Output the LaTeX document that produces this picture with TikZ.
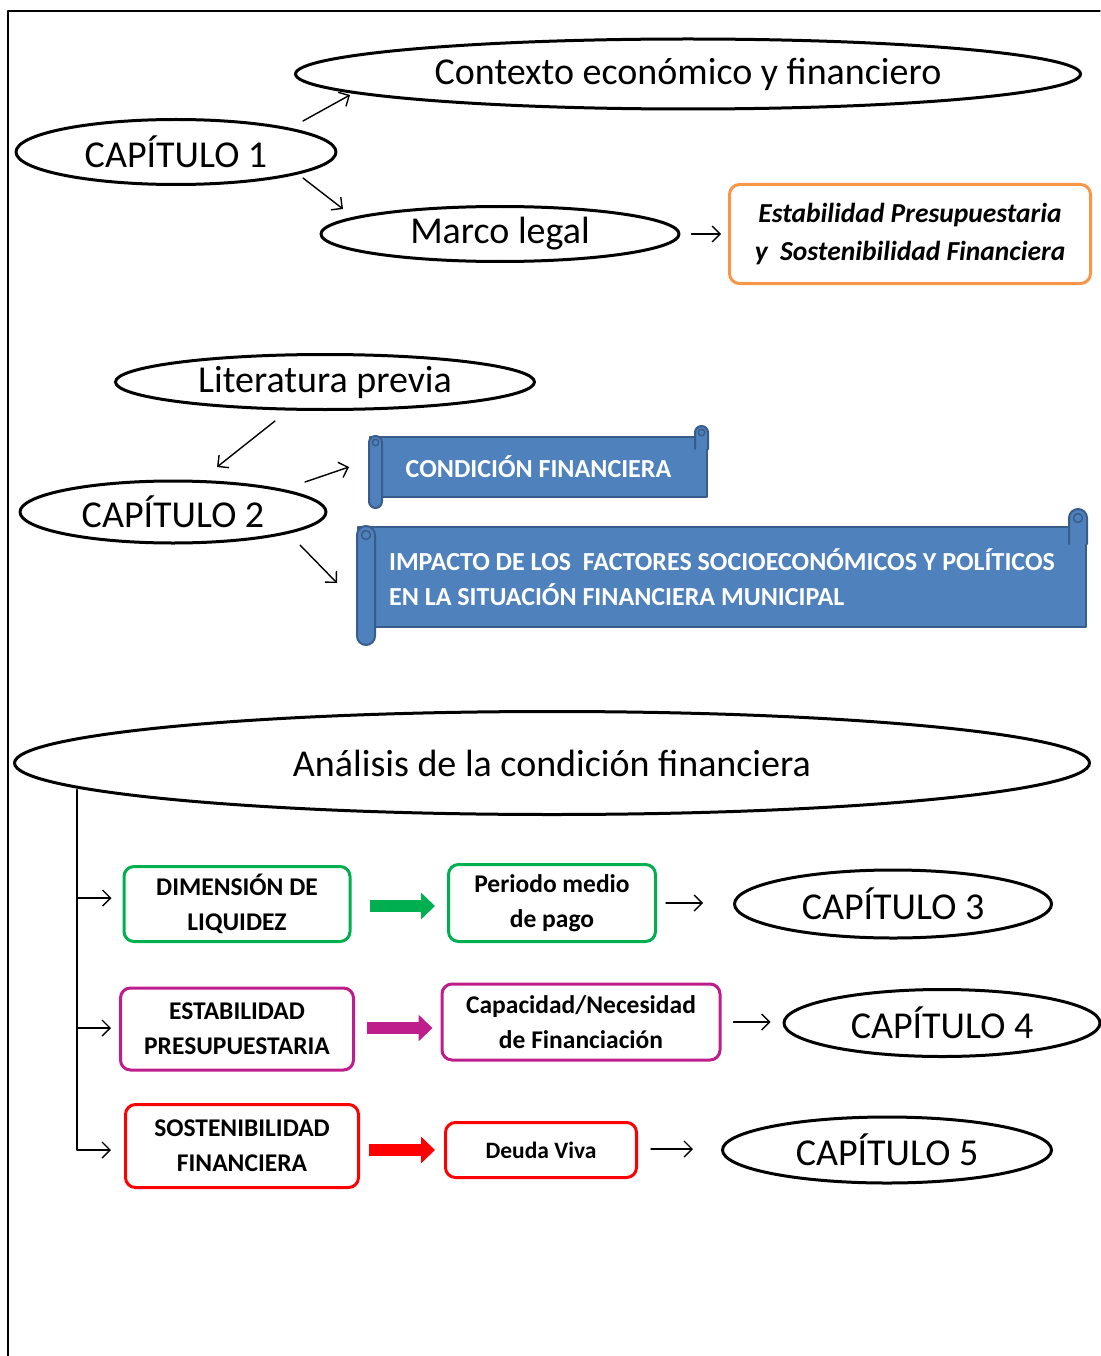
\documentclass[tikz,border=0pt]{standalone}
\usepackage{fontspec}
\setmainfont{Carlito}
\usetikzlibrary{shapes.geometric,arrows.meta,calc}

\definecolor{liqgreen}{RGB}{0,176,80}
\definecolor{presmag}{RGB}{190,30,140}
\definecolor{sostred}{RGB}{255,0,0}
\definecolor{estorange}{RGB}{247,150,70}
\definecolor{scrollblue}{RGB}{79,129,189}
\definecolor{scrolledge}{RGB}{56,93,138}

% rolled ends of a scroll banner drawn over node #1
\newcommand{\scrollrolls}[3]{%
  \pgfmathsetmacro{\rollr}{#2/2}
  \draw[scrollpart,rounded corners=\rollr pt]
    (#1.north west) rectangle ([xshift=#2,yshift=-#3]#1.south west);
  \draw[scrolledge,line width=1.5pt]
    ([xshift=#2/2,yshift=-#2/2]#1.north west) circle[radius=#2*0.25pt];
  \draw[scrollpart,rounded corners=\rollr pt]
    ([xshift=-#2,yshift=-#2]#1.north east) -- ([xshift=-#2,yshift=#3]#1.north east)
    -- ([yshift=#3]#1.north east) -- ([yshift=-#2]#1.north east);
  \draw[scrolledge,line width=1.5pt]
    ([xshift=-#2/2,yshift=#3-#2/2]#1.north east) circle[radius=#2*0.25pt];
}

\tikzset{
  oval/.style={ellipse,draw,line width=3pt,inner sep=0pt,
    font=\fontsize{38}{42}\selectfont},
  tagbox/.style={draw,line width=3pt,rounded corners=10pt,align=center,
    inner sep=0pt,font=\bfseries\fontsize{25.5}{35}\selectfont},
  scroll/.style={draw=scrolledge,fill=scrollblue,line width=2pt,text=white,
    inner sep=0pt,align=left,font=\bfseries\fontsize{26}{35}\selectfont},
  scrollpart/.style={draw=scrolledge,fill=scrollblue,line width=2pt},
  thinarr/.style={line width=1.4pt,-{Straight Barb[length=8pt,width=16pt]}},
  bigarr/.style={line width=12pt,line cap=butt,-{Triangle[length=14pt,width=26pt]}},
}

\begin{document}
\begin{tikzpicture}[x=1pt,y=-1pt,line cap=round,line join=round]
  \path[use as bounding box] (0,0) rectangle (1100,1356);
  \draw[line width=1.3pt] (8,1356) -- (8,11) -- (1100,11);

  % chapter 1
  \node[oval,minimum width=785,minimum height=70] (ctx) at (688,74) {Contexto económico y financiero};
  \node[oval,minimum width=320,minimum height=65] (cap1) at (176,152) {CAPÍTULO 1};
  \node[oval,minimum width=358,minimum height=55] (marco) at (500,234) {Marco legal};
  \node[tagbox,draw=estorange,minimum width=361,minimum height=99,
    font=\bfseries\itshape\fontsize{27.5}{38}\selectfont] (estab) at (910,234)
    {Estabilidad Presupuestaria\\y\ \ Sostenibilidad Financiera};

  \coordinate (c1up) at (303,121);
  \coordinate (ctxin) at (350,95);
  \coordinate (c1down) at (303,178);
  \coordinate (marcoin) at (343,209);
  \draw[thinarr] (c1up) -- (ctxin);
  \draw[thinarr] (c1down) -- (marcoin);
  \draw[thinarr,shorten <=11pt,shorten >=7pt] (marco.east) -- (marco.east -| estab.west);

  % chapter 2
  \node[oval,minimum width=419,minimum height=55] (lit) at (325,382) {Literatura previa};
  \node[oval,minimum width=306,minimum height=62] (cap2) at (173,512) {CAPÍTULO 2};
  \node[scroll,minimum width=337,minimum height=60] (cond) at (538.5,467) {CONDICIÓN FINANCIERA};
  \scrollrolls{cond}{13}{10}
  \node[scroll,minimum width=728,minimum height=100] (impac) at (722,577)
    {IMPACTO DE LOS\ \ FACTORES SOCIOECONÓMICOS Y POLÍTICOS\\EN LA SITUACIÓN FINANCIERA MUNICIPAL};
  \scrollrolls{impac}{18}{17}

  \coordinate (litout) at (275,421);
  \coordinate (c2in) at (217,467);
  \coordinate (c2up) at (305,482);
  \coordinate (condin) at (349,467);
  \coordinate (c2down) at (300,545);
  \coordinate (impacin) at (337,583);
  \draw[thinarr] (litout) -- (c2in);
  \draw[thinarr] (c2up) -- (condin);
  \draw[thinarr] (c2down) -- (impacin);

  % chapters 3 to 5
  \node[oval,minimum width=1075,minimum height=103] (anal) at (552,763) {Análisis de la condición financiera};

  \node[tagbox,draw=liqgreen,minimum width=226,minimum height=75] (liq) at (237,904) {DIMENSIÓN DE\\LIQUIDEZ};
  \node[tagbox,draw=liqgreen,minimum width=207,minimum height=77] (pago) at (552,903) {Periodo medio\\de pago};
  \node[oval,minimum width=317,minimum height=68] (cap3) at (893,904) {CAPÍTULO 3};

  \node[tagbox,draw=presmag,minimum width=233,minimum height=82] (pres) at (237,1029) {ESTABILIDAD\\PRESUPUESTARIA};
  \node[tagbox,draw=presmag,minimum width=278,minimum height=76] (finan) at (581,1022) {Capacidad/Necesidad\\de Financiación};
  \node[oval,minimum width=316,minimum height=67] (cap4) at (942,1023) {CAPÍTULO 4};

  \node[tagbox,draw=sostred,minimum width=233,minimum height=83] (sost) at (242,1146) {SOSTENIBILIDAD\\FINANCIERA};
  \node[tagbox,draw=sostred,minimum width=191,minimum height=55,
    font=\bfseries\fontsize{23.5}{30}\selectfont] (deuda) at (541,1150) {Deuda Viva};
  \node[oval,minimum width=329,minimum height=66] (cap5) at (887,1150) {CAPÍTULO 5};

  \coordinate (trunk) at (77,790);
  \draw[thinarr,shorten >=11pt] (trunk) |- ([yshift=6]liq.west);
  \draw[thinarr,shorten >=8pt] (trunk) |- ([yshift=1]pres.west);
  \draw[thinarr,shorten >=13pt] (trunk) |- ([yshift=-4]sost.west);

  \draw[bigarr,liqgreen,shorten <=18pt,shorten >=12pt] ([yshift=-2]liq.east) -- ([yshift=-2]liq.east -| pago.west);
  \draw[thinarr,shorten <=9pt,shorten >=30pt] (pago.east) -- (pago.east -| cap3.west);
  \draw[bigarr,presmag,shorten <=12pt,shorten >=8pt] ([yshift=1]pres.east) -- ([yshift=1]pres.east -| finan.west);
  \draw[thinarr,shorten <=12pt,shorten >=12pt] (finan.east) -- (finan.east -| cap4.west);
  \draw[bigarr,sostred,shorten <=9pt,shorten >=9pt] ([yshift=-4]sost.east) -- ([yshift=-4]sost.east -| deuda.west);
  \draw[thinarr,shorten <=13pt,shorten >=28pt] ([yshift=1]deuda.east) -- ([yshift=1]deuda.east -| cap5.west);
\end{tikzpicture}
\end{document}
